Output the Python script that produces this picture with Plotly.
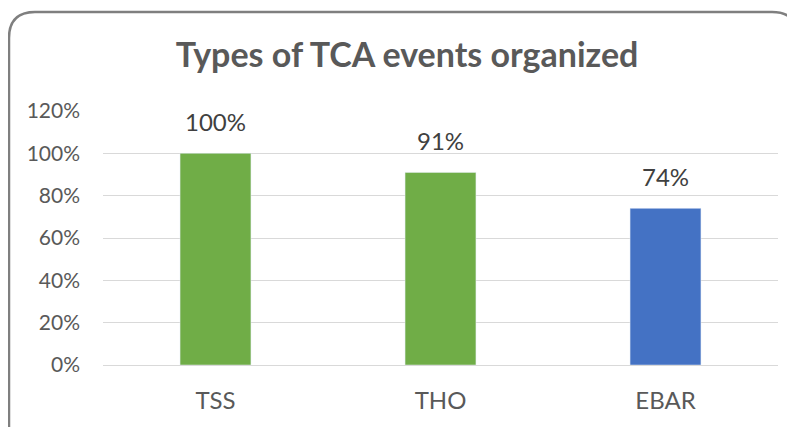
import plotly.graph_objects as go

categories = ['TSS', 'THO', 'EBAR']
values = [1.00, 0.91, 0.74]
bar_colors = ['#70AD47', '#70AD47', '#4472C4']
tick_vals = [0, 0.2, 0.4, 0.6, 0.8, 1.0, 1.2]
tick_text = ['0%', '20%', '40%', '60%', '80%', '100%', '120%']

W, H = 795, 427
# the page body adds an 8px margin, so positions are taken 8px up/left
L, R, T, B = 95, 25, 103, 70
pw, ph = W - L - R, H - T - B
FONT = 'Lato, Open Sans, sans-serif'


def px(x):
    return (x - L) / pw


def py(y):
    return (H - B - y) / ph


fig = go.Figure(go.Bar(
    x=categories, y=values, marker_color=bar_colors, width=0.315,
    hoverinfo='skip'
))

for c, v in zip(categories, values):
    fig.add_annotation(x=c, y=v, text='{:.0%}'.format(v), showarrow=False,
                       yanchor='bottom', yshift=15,
                       font=dict(size=24, color='#404040', family=FONT))

# rounded border of the chart area
x0, x1, y0, y1 = 1, 790, 4, 460
r = 26
path = ('M {a},{b} L {c},{b} Q {d},{b} {d},{e} L {d},{f} L {g},{f} L {g},{e} Q {g},{b} {h},{b}'
        ).format(a=px(x0 + r), b=py(y0), c=px(x1 - r), d=px(x1), e=py(y0 + r),
                 f=py(y1), g=px(x0), h=px(x0 + r))
fig.add_shape(type='path', xref='paper', yref='paper', path=path,
              line=dict(color='#7F7F7F', width=2.5))

fig.update_layout(
    width=W, height=H,
    margin=dict(l=L, r=R, t=T, b=B),
    paper_bgcolor='white', plot_bgcolor='white',
    showlegend=False,
    title=dict(text='<b>Types of TCA events organized</b>', x=px(399), xanchor='center',
               xref='paper', y=1 - 47 / H, yanchor='middle',
               font=dict(size=34, color='#595959', family=FONT)),
    font=dict(family=FONT, color='#595959', size=21),
)
fig.update_yaxes(range=[0, 1.2], tickvals=tick_vals, ticktext=tick_text,
                 showgrid=True, gridcolor='#D9D9D9', gridwidth=1.2,
                 zeroline=True, zerolinecolor='#D9D9D9', zerolinewidth=1.2,
                 ticklabelstandoff=22, showline=False, automargin=False)
fig.update_xaxes(showline=False, ticklabelstandoff=19, showgrid=False, automargin=False,
                 tickfont=dict(size=24))

fig.write_html('out.html')
